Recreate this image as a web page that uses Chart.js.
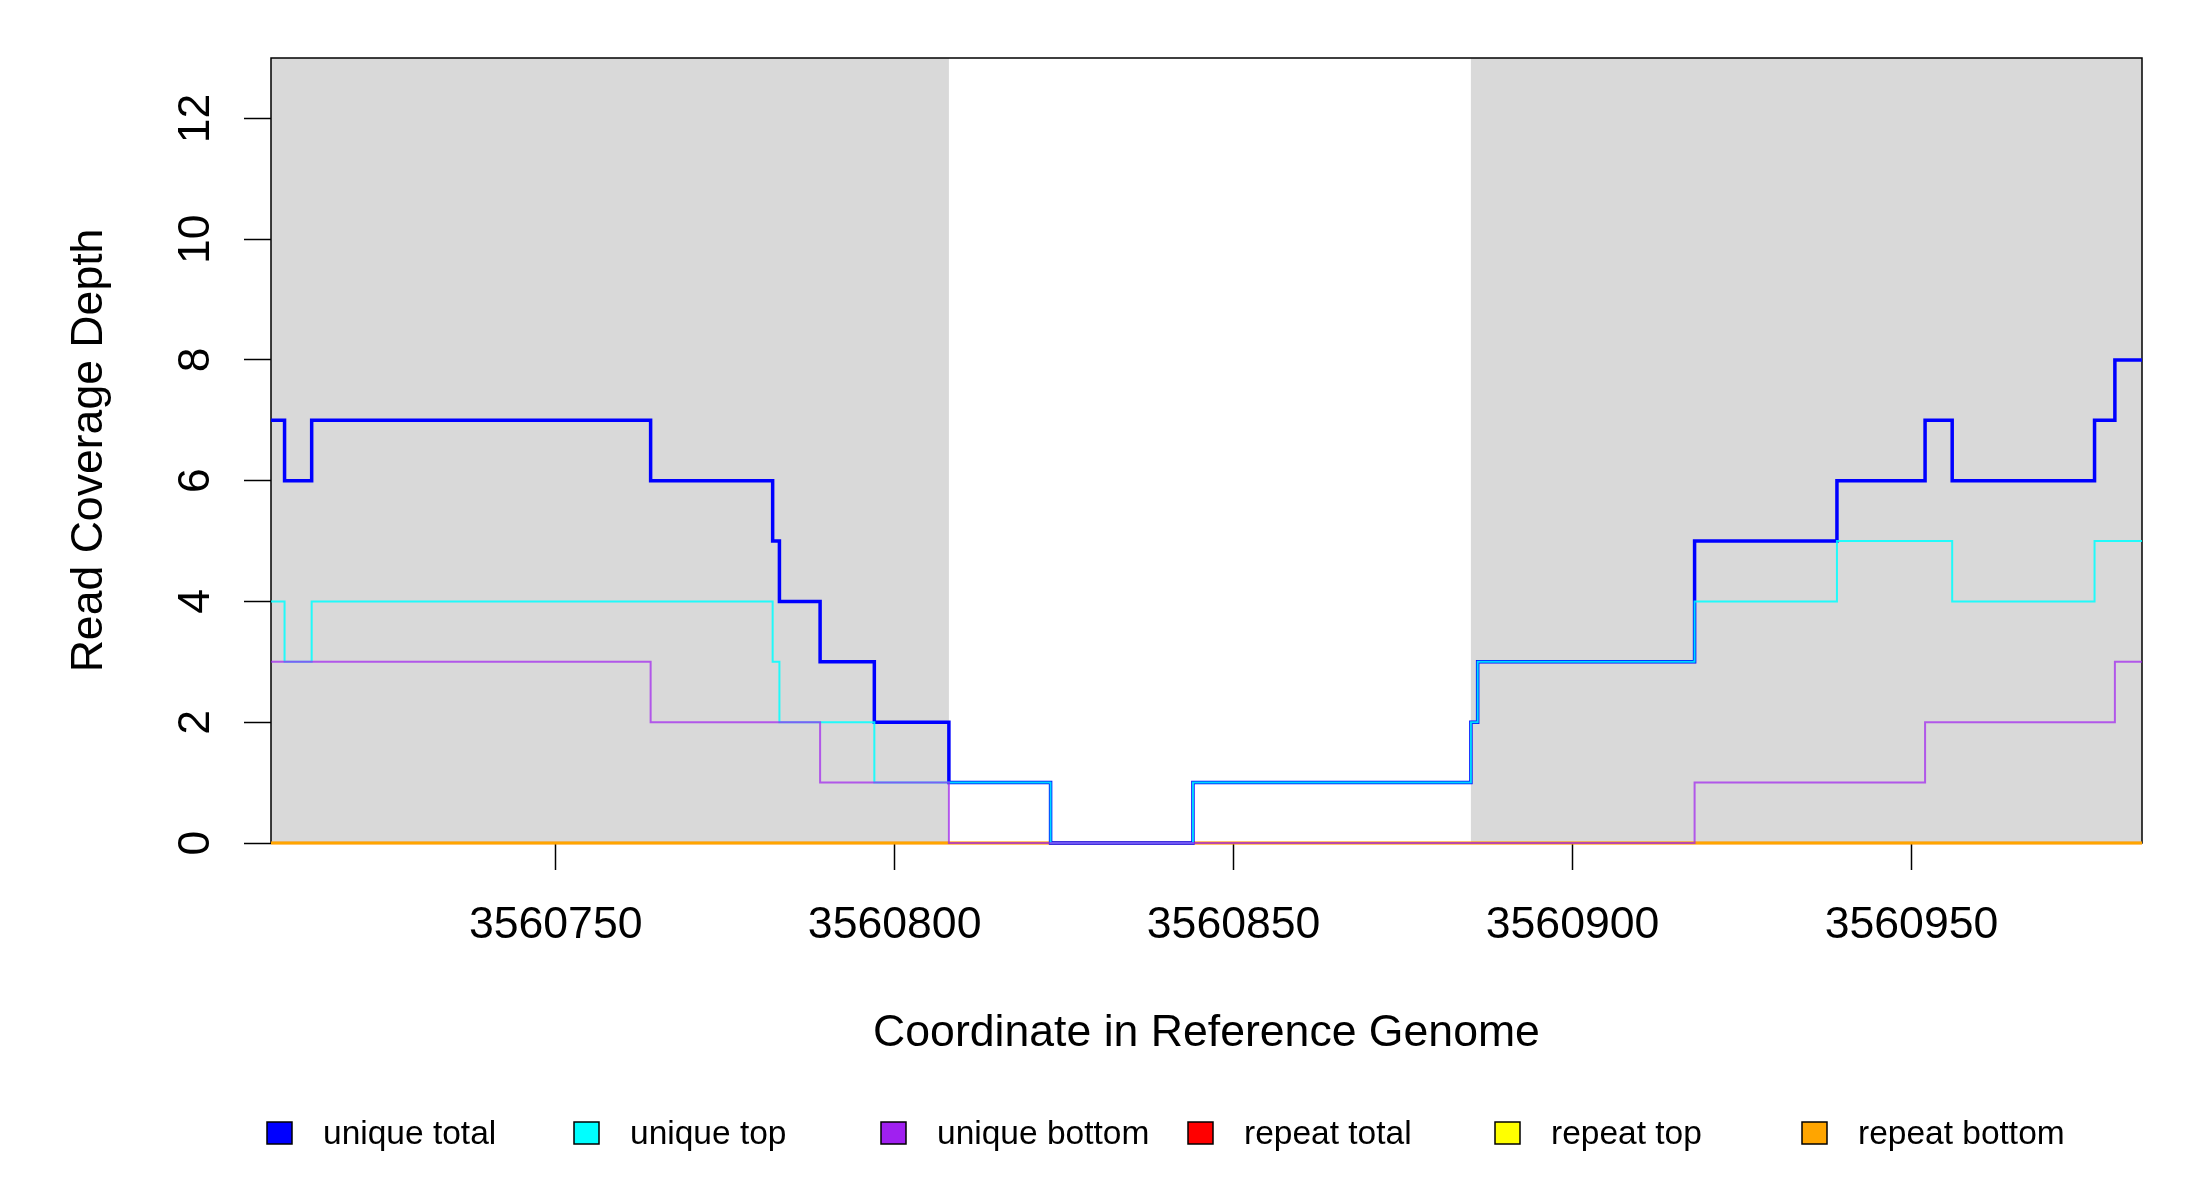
<!DOCTYPE html>
<html>
<head>
<meta charset="utf-8">
<script src="https://cdn.jsdelivr.net/npm/chart.js@4.4.1/dist/chart.umd.min.js"></script>
<style>
  html, body { margin: 0; padding: 0; background: #fff; }
  canvas { display: block; }
</style>
</head>
<body>
<canvas id="graficoCobertura" width="2200" height="1200"></canvas>
<script>
// Posiciones donde cambia la cobertura (la última es el final de la región)
const posiciones = [3560708, 3560710, 3560714, 3560764, 3560782, 3560783, 3560789, 3560797, 3560808, 3560823,
                    3560844, 3560885, 3560886, 3560918, 3560939, 3560952, 3560956, 3560977, 3560980, 3560984];

const uniqueTotal  = [7, 6, 7, 6, 5, 4, 3, 2, 1, 0, 1, 2, 3, 5, 6, 7, 6, 7, 8, 8];
const uniqueTop    = [4, 3, 4, 4, 3, 2, 2, 1, 1, 0, 1, 2, 3, 4, 5, 5, 4, 5, 5, 5];
const uniqueBottom = [3, 3, 3, 2, 2, 2, 1, 1, 0, 0, 0, 0, 0, 1, 1, 2, 2, 2, 3, 3];
const repeatTotal  = [0, 0, 0, 0, 0, 0, 0, 0, 0, 0, 0, 0, 0, 0, 0, 0, 0, 0, 0, 0];
const repeatTop    = [0, 0, 0, 0, 0, 0, 0, 0, 0, 0, 0, 0, 0, 0, 0, 0, 0, 0, 0, 0];
const repeatBottom = [0, 0, 0, 0, 0, 0, 0, 0, 0, 0, 0, 0, 0, 0, 0, 0, 0, 0, 0, 0];

const xTicks = [3560750, 3560800, 3560850, 3560900, 3560950];
const yTicks = [0, 2, 4, 6, 8, 10, 12];

// Regiones sombreadas en gris
const sombreado = [[3560708, 3560808], [3560885, 3560984]];

const fuente = '"Liberation Sans", Arial, Helvetica, sans-serif';

function puntos(valores) {
  return posiciones.map((x, i) => ({ x: x, y: valores[i] }));
}

function serie(label, valores, color, relleno, ancho, orden) {
  return {
    label: label,
    data: puntos(valores),
    borderColor: color,
    backgroundColor: relleno,
    borderWidth: ancho,
    stepped: true,
    pointRadius: 0,
    fill: false,
    clip: 6,
    order: orden
  };
}

// Textos, leyenda y caja al estilo de R
const decoracion = {
  id: 'decoracion',
  beforeDatasetsDraw(chart) {
    const { ctx, chartArea: a, scales: { x } } = chart;
    ctx.save();
    ctx.fillStyle = '#d9d9d9';
    sombreado.forEach(([x0, x1]) => {
      const p0 = Math.max(a.left, x.getPixelForValue(x0));
      const p1 = Math.min(a.right, x.getPixelForValue(x1));
      ctx.fillRect(p0, a.top, p1 - p0, a.bottom - a.top);
    });
    ctx.strokeStyle = '#000';
    ctx.lineWidth = 1.5;
    ctx.strokeRect(a.left, a.top, a.right - a.left, a.bottom - a.top);
    ctx.restore();
  },
  afterDraw(chart) {
    const { ctx, chartArea: a, scales: { y } } = chart;
    ctx.save();
    ctx.fillStyle = '#000';
    ctx.font = '44.6px ' + fuente;
    ctx.textAlign = 'center';
    ctx.textBaseline = 'alphabetic';

    // etiquetas del eje y, giradas
    y.ticks.forEach(t => {
      ctx.save();
      ctx.translate(209, y.getPixelForValue(t.value));
      ctx.rotate(-Math.PI / 2);
      ctx.fillText(String(t.value), 0, 0);
      ctx.restore();
    });

    // títulos de los ejes
    ctx.save();
    ctx.translate(102, (a.top + a.bottom) / 2);
    ctx.rotate(-Math.PI / 2);
    ctx.fillText('Read Coverage Depth', 0, 0);
    ctx.restore();
    ctx.fillText('Coordinate in Reference Genome', (a.left + a.right) / 2, 1046);

    // leyenda horizontal
    ctx.font = '33.5px ' + fuente;
    ctx.textAlign = 'left';
    chart.data.datasets.forEach((ds, i) => {
      const bx = 267 + i * 307;
      ctx.fillStyle = ds.backgroundColor;
      ctx.fillRect(bx, 1122, 25, 22);
      ctx.strokeStyle = '#000';
      ctx.lineWidth = 1.5;
      ctx.strokeRect(bx, 1122, 25, 22);
      ctx.fillStyle = '#000';
      ctx.fillText(ds.label, bx + 56, 1144);
    });
    ctx.restore();
  }
};

const ctx = document.getElementById('graficoCobertura');

new Chart(ctx, {
  type: 'line',
  data: {
    datasets: [
      serie('unique total', uniqueTotal, '#0000ff', '#0000ff', 3.5, 2),
      serie('unique top', uniqueTop, 'rgba(0,255,255,0.85)', '#00ffff', 2, 1),
      serie('unique bottom', uniqueBottom, 'rgba(160,32,240,0.7)', '#a020f0', 2, 0),
      serie('repeat total', repeatTotal, '#ff0000', '#ff0000', 2.5, 5),
      serie('repeat top', repeatTop, '#ffff00', '#ffff00', 2.5, 4),
      serie('repeat bottom', repeatBottom, '#ffa500', '#ffa500', 2.5, 3)
    ]
  },
  options: {
    responsive: false,
    animation: false,
    devicePixelRatio: 1,
    layout: { padding: { top: 58, right: 58, left: 0, bottom: 0 } },
    plugins: {
      legend: { display: false },
      tooltip: { enabled: false }
    },
    scales: {
      x: {
        type: 'linear',
        min: 3560708,
        max: 3560984,
        afterBuildTicks: s => { s.ticks = xTicks.map(v => ({ value: v })); },
        afterFit: s => { s.height = 357; },
        ticks: {
          callback: v => String(v),
          font: { size: 44.6, family: fuente },
          color: '#000',
          padding: 29,
          maxRotation: 0,
          autoSkip: false
        },
        grid: { drawOnChartArea: false, drawTicks: true, tickLength: 27, tickColor: '#000', tickWidth: 1.5 },
        border: { display: false }
      },
      y: {
        type: 'linear',
        min: 0,
        max: 13,
        afterBuildTicks: s => { s.ticks = yTicks.map(v => ({ value: v })); },
        afterFit: s => { s.width = 271; },
        ticks: { display: false },
        grid: { drawOnChartArea: false, drawTicks: true, tickLength: 27, tickColor: '#000', tickWidth: 1.5 },
        border: { display: false }
      }
    }
  },
  plugins: [decoracion]
});
</script>
</body>
</html>
